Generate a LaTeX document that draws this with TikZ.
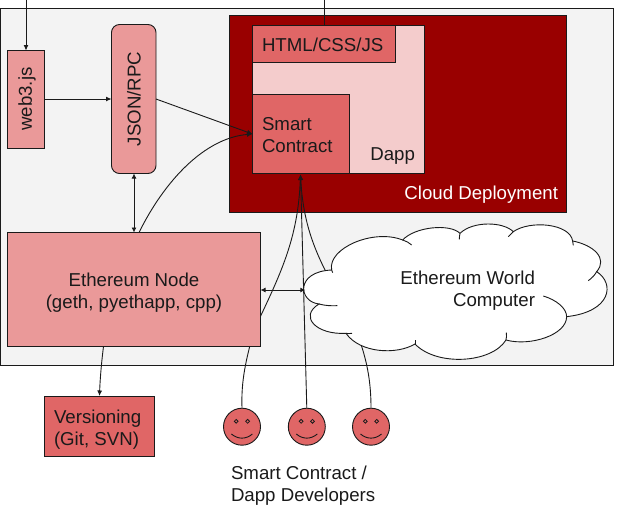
\documentclass[tikz,border=0pt]{standalone}
\usepackage{fontspec}
\setmainfont{Liberation Sans}
\usetikzlibrary{arrows.meta}
\definecolor{bggray}{HTML}{F3F3F3}
\definecolor{darkred}{HTML}{990000}
\definecolor{pinklight}{HTML}{F4CCCC}
\definecolor{pinkmid}{HTML}{EA9999}
\definecolor{redmid}{HTML}{E06666}
\definecolor{inkc}{HTML}{1A1A1A}
\tikzset{
  boxbase/.style={draw=inkc,line width=0.9pt,inner sep=0pt,outer sep=0pt,text=inkc},
  pinkbox/.style={boxbase,fill=pinkmid},
  redbox/.style={boxbase,fill=redmid},
  label/.style={inner sep=0pt,outer sep=0pt,text=inkc,font=\fontsize{18.67}{22}\selectfont},
  conn/.style={draw=inkc,line width=0.9pt},
  tip/.style={conn,-{Latex[length=5.5pt,width=5pt]}},
  tips/.style={conn,{Latex[length=5pt,width=5pt]}-{Latex[length=5pt,width=5pt]}},
  face/.style={draw=inkc,fill=redmid,line width=0.9pt,circle,minimum size=37pt,inner sep=0pt,outer sep=0pt},
  cloudline/.style={draw=inkc,line width=0.9pt},
}
\begin{document}
\begin{tikzpicture}[x=1pt,y=-1pt]
\useasboundingbox (0,0) rectangle (620,515);
\node[boxbase,fill=bggray,minimum width=613pt,minimum height=357pt,anchor=north west] (frame) at (0.5,8) {};
\coordinate (topa) at (26,0);
\coordinate (topb) at (324,0);
\coordinate (smarttip) at (300.5,174.5);
\node[boxbase,fill=darkred,minimum width=337pt,minimum height=197pt,anchor=north west] (clouddep) at (229.5,15.5) {};
\node[boxbase,fill=pinklight,minimum width=171.5pt,minimum height=148.5pt,anchor=north west] (dapp) at (252.5,25) {};
\node[redbox,minimum width=143pt,minimum height=37pt,anchor=north west] (html) at (252.5,25) {};
\node[redbox,minimum width=97pt,minimum height=79pt,anchor=north west] (smart) at (252.5,94.5) {};
\node[pinkbox,minimum width=37pt,minimum height=97.5pt,anchor=north west] (web3) at (7.5,50.5) {};
\node[pinkbox,rounded corners=8pt,minimum width=44.5pt,minimum height=149pt,anchor=north west] (json) at (111.5,24.5) {};
\node[face] (f1) at (242,426.7) {};
\node[face] (f2) at (306.8,426.7) {};
\node[face] (f3) at (371,426.7) {};
% connectors behind node and cloud
\draw[tip] (f1.north) .. controls (241,380) and (246,360) .. (254,330) .. controls (280,275) and (298,240) .. (smarttip);
\draw[tip] (f2.north) -- (smarttip);
\draw[tip] (f3.north) .. controls (371,375) and (365,352) .. (352,320) .. controls (325,270) and (304,240) .. (smarttip);
\node[pinkbox,minimum width=253pt,minimum height=114pt,anchor=north west] (node) at (7.5,232.5) {};
% cloud
\begin{scope}[shift={(220,170)},x=0.3333pt,y=-0.3333pt]
\path[draw=inkc,fill=white,line width=0.9pt] (335,300)
 .. controls (322,235) and (460,175) .. (548,210)
 .. controls (585,170) and (690,160) .. (720,190)
 .. controls (760,152) and (850,155) .. (880,185)
 .. controls (930,150) and (1050,160) .. (1058,213)
 .. controls (1120,225) and (1165,265) .. (1130,305)
 .. controls (1185,340) and (1175,425) .. (1040,440)
 .. controls (1040,495) and (930,530) .. (858,510)
 .. controls (815,580) and (650,590) .. (585,522)
 .. controls (530,555) and (420,550) .. (378,490)
 .. controls (290,495) and (235,440) .. (297,402)
 .. controls (235,395) and (225,305) .. (335,300) -- cycle;
\draw[cloudline] (548,210) .. controls (558,213) and (568,218) .. (575,225);
\draw[cloudline] (720,190) .. controls (719,196) and (718,202) .. (718,208);
\draw[cloudline] (880,185) .. controls (875,190) and (870,195) .. (865,200);
\draw[cloudline] (1058,213) .. controls (1060,218) and (1060,222) .. (1060,226);
\draw[cloudline] (1130,305) .. controls (1125,315) and (1115,325) .. (1105,332);
\draw[cloudline] (1040,440) .. controls (1040,415) and (1010,390) .. (970,378);
\draw[cloudline] (858,510) .. controls (860,503) and (860,495) .. (859,488);
\draw[cloudline] (585,522) .. controls (586,518) and (586,514) .. (585,510);
\draw[cloudline] (378,490) .. controls (384,491) and (390,491) .. (396,490);
\draw[cloudline] (297,402) .. controls (315,407) and (335,408) .. (352,407);
\draw[cloudline] (335,300) .. controls (336,303) and (337,306) .. (338,308);
\coordinate (cloudw) at (256,361);
\end{scope}
\draw[tip] (topa) -- (web3.north -| topa);
\draw[conn] (topb) -- (html.north -| topb);
\draw[tip] (web3.east |- 0,99) -- (json.west |- 0,99);
\draw[tip] (json.east |- 0,99) -- (smart.west |- 0,134);
\draw[tips] (json.south -| 134,0) -- (node.north -| 134,0);
\draw[tip] (node.north -| 139,0) .. controls (165,180) and (205,138) .. (smart.west |- 0,134);
\draw[tips] (node.east |- 0,290) -- (cloudw |- 0,290);
\node[redbox,minimum width=110pt,minimum height=60pt,anchor=north west] (vers) at (44.5,396) {};
\draw[tip] (node.south -| 103.5,0) .. controls (101.5,362) and (100,380) .. (vers.north -| 99.5,0);
% faces
\foreach \c in {241.9,306.8,371}{
  \draw[inkc,line width=0.8pt,fill=redmid] (\c-5.7,421.3) circle (1.9pt);
  \draw[inkc,line width=0.8pt,fill=redmid] (\c+5.7,421.3) circle (1.9pt);
  \draw[inkc,line width=0.9pt] (\c-10.5,434) .. controls (\c-4,439.5) and (\c+4,439.5) .. (\c+10.5,434);
}
% text
\node[label,rotate=90] (t1) at (27,99) {web3.js};
\node[label,rotate=90] (t2) at (134,99) {JSON/RPC};
\node[label,anchor=base west] (t3) at (262,51) {HTML/CSS/JS};
\node[label,anchor=base west] (t4) at (262,130) {Smart};
\node[label,anchor=base west] (t5) at (262,152) {Contract};
\node[label,anchor=base east] (t6) at (415,160) {Dapp};
\node[label,anchor=base east,text=white] (t7) at (558,199) {Cloud Deployment};
\node[label,anchor=base] (t8) at (134,286) {Ethereum Node};
\node[label,anchor=base] (t9) at (134,308) {(geth, pyethapp, cpp)};
\node[label,anchor=base east] (t10) at (535,284) {Ethereum World};
\node[label,anchor=base east] (t11) at (535,306) {Computer};
\node[label,anchor=base west] (t12) at (54,423) {Versioning};
\node[label,anchor=base west] (t13) at (54,445) {(Git, SVN)};
\node[label,anchor=base west] (t14) at (231,479) {Smart Contract /};
\node[label,anchor=base west] (t15) at (231,501) {Dapp Developers};
\end{tikzpicture}
\end{document}
